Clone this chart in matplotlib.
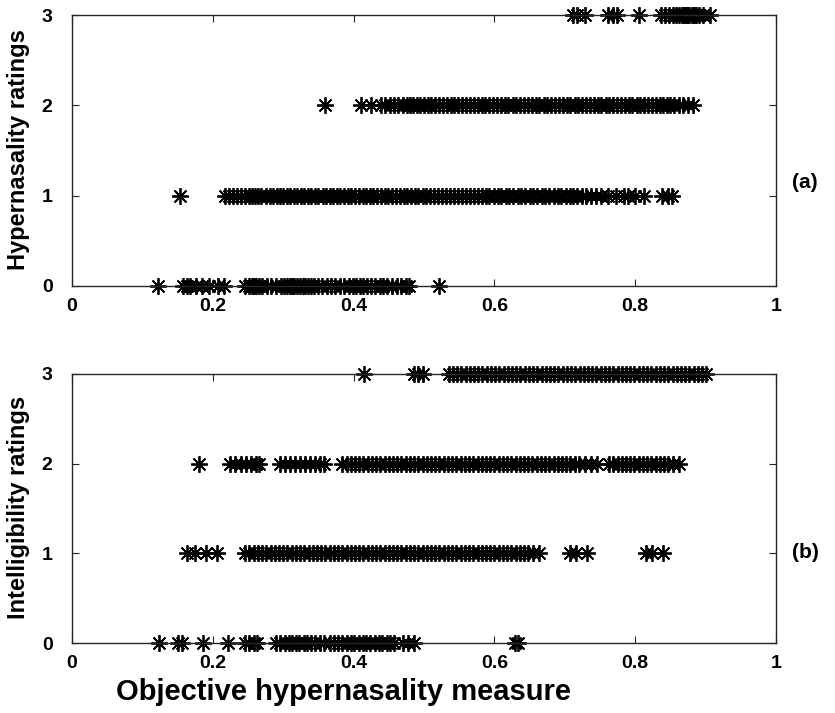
import numpy as np
import matplotlib
matplotlib.use("Agg")
import matplotlib.pyplot as plt

plt.rcParams['font.family'] = ['Liberation Sans', 'DejaVu Sans']
plt.rcParams['font.weight'] = 'bold'

# --- (a) hypernasality ratings vs objective measure ---
hyp_0 = [0.122, 0.158, 0.163, 0.168, 0.176, 0.184, 0.195, 0.207, 0.216,
         0.246, 0.251, 0.255, 0.259, 0.262, 0.266, 0.270, 0.277, 0.283, 0.290,
         0.297, 0.301, 0.305, 0.309, 0.312, 0.316, 0.320, 0.324, 0.328, 0.331,
         0.335, 0.339, 0.344, 0.349, 0.355, 0.362, 0.368, 0.374, 0.381, 0.387,
         0.393, 0.399, 0.404, 0.409, 0.414, 0.419, 0.425, 0.431, 0.437, 0.442,
         0.448, 0.455, 0.462, 0.468, 0.474, 0.478, 0.522]
hyp_1 = [0.153,
         0.217, 0.223, 0.229, 0.234, 0.240, 0.246, 0.251, 0.256, 0.260, 0.264,
         0.269, 0.275, 0.281, 0.286, 0.291, 0.296, 0.300, 0.305, 0.310, 0.315,
         0.320, 0.325, 0.330, 0.335, 0.340, 0.345, 0.350, 0.356, 0.361, 0.366,
         0.371, 0.376, 0.381, 0.386, 0.392, 0.397, 0.402, 0.408, 0.413, 0.418,
         0.423, 0.428, 0.433, 0.439, 0.444, 0.449, 0.455, 0.460, 0.466, 0.471,
         0.476, 0.482, 0.487, 0.492, 0.498, 0.503, 0.509, 0.514, 0.520, 0.526,
         0.531, 0.537, 0.542, 0.548, 0.554, 0.559, 0.565, 0.571, 0.576, 0.582,
         0.588, 0.593, 0.599, 0.605, 0.610, 0.616, 0.621, 0.627, 0.633, 0.638,
         0.644, 0.650, 0.655, 0.661, 0.667, 0.672, 0.678, 0.684, 0.690, 0.695,
         0.701, 0.707, 0.712, 0.718, 0.724, 0.730, 0.737,
         0.745, 0.752, 0.761, 0.773, 0.784, 0.790, 0.800, 0.812, 0.838, 0.847, 0.852]
hyp_2 = [0.359, 0.410, 0.425, 0.439, 0.445, 0.452, 0.458, 0.463, 0.470, 0.476, 0.480,
         0.485, 0.490, 0.495, 0.500, 0.505, 0.510, 0.516, 0.521, 0.527, 0.532,
         0.538, 0.543, 0.549, 0.554, 0.560, 0.565, 0.571, 0.576, 0.582, 0.587,
         0.593, 0.598, 0.604, 0.609, 0.615, 0.620, 0.626, 0.631, 0.637, 0.642,
         0.648, 0.653, 0.659, 0.664, 0.670, 0.675, 0.681, 0.686, 0.692, 0.697,
         0.703, 0.708, 0.714, 0.719, 0.725, 0.730, 0.736, 0.741, 0.747, 0.752,
         0.758, 0.763, 0.769, 0.774, 0.780, 0.785, 0.791, 0.796, 0.802, 0.807,
         0.813, 0.818, 0.824, 0.829, 0.835, 0.840, 0.845, 0.850, 0.855, 0.862,
         0.868, 0.875, 0.882]
hyp_3 = [0.712, 0.718, 0.728, 0.762, 0.768, 0.774, 0.806, 0.836, 0.842,
         0.848, 0.853, 0.858, 0.862, 0.866, 0.869, 0.872, 0.874, 0.877, 0.880,
         0.883, 0.887, 0.891, 0.897, 0.906]

# --- (b) intelligibility ratings vs objective measure ---
int_0 = [0.123, 0.151, 0.156, 0.186, 0.221, 0.246, 0.252, 0.258, 0.263,
         0.290, 0.296, 0.302, 0.308, 0.313, 0.318, 0.323, 0.329, 0.334, 0.339,
         0.345, 0.352, 0.358, 0.366, 0.372, 0.378, 0.384, 0.390, 0.396, 0.401,
         0.407, 0.413, 0.418, 0.424, 0.430, 0.436, 0.441, 0.447, 0.452, 0.458,
         0.470, 0.477, 0.486, 0.629, 0.633]
int_1 = [0.163, 0.175, 0.190, 0.206,
         0.246, 0.252, 0.258, 0.264, 0.270, 0.276, 0.282, 0.288, 0.294, 0.300,
         0.306, 0.312, 0.318, 0.324, 0.330, 0.336, 0.342, 0.348, 0.354, 0.360,
         0.366, 0.372, 0.378, 0.384, 0.390, 0.396, 0.402, 0.408, 0.414, 0.420,
         0.426, 0.432, 0.438, 0.444, 0.450, 0.456, 0.462, 0.468, 0.474, 0.480,
         0.486, 0.492, 0.498, 0.504, 0.510, 0.516, 0.522, 0.528, 0.534, 0.540,
         0.546, 0.552, 0.558, 0.564, 0.570, 0.576, 0.582, 0.588, 0.594, 0.600,
         0.606, 0.612, 0.618, 0.624, 0.630, 0.636, 0.642, 0.648, 0.655, 0.664,
         0.707, 0.716, 0.731, 0.815, 0.824, 0.839]
int_2 = [0.180, 0.224, 0.232, 0.240, 0.247, 0.254, 0.261, 0.266,
         0.296, 0.303, 0.310, 0.317, 0.324, 0.331, 0.338, 0.345, 0.352, 0.358,
         0.384, 0.390, 0.396, 0.402, 0.408, 0.414, 0.420, 0.426, 0.432, 0.438, 0.444,
         0.450, 0.456, 0.462, 0.468, 0.474, 0.480, 0.486, 0.492, 0.498, 0.504,
         0.510, 0.516, 0.522, 0.528, 0.534, 0.540, 0.546, 0.552, 0.558, 0.564,
         0.570, 0.576, 0.582, 0.588, 0.594, 0.600, 0.606, 0.612, 0.618, 0.624,
         0.630, 0.636, 0.642, 0.648, 0.654, 0.660, 0.666, 0.672, 0.678, 0.684,
         0.690, 0.696, 0.702, 0.708, 0.714, 0.720, 0.729, 0.737, 0.746,
         0.763, 0.769, 0.775, 0.781, 0.787, 0.793, 0.799, 0.805, 0.811, 0.817,
         0.823, 0.829, 0.835, 0.841, 0.847, 0.853, 0.862]
int_3 = [0.415, 0.486, 0.492, 0.499,
         0.535, 0.541, 0.547, 0.553, 0.559, 0.565, 0.571, 0.577, 0.583, 0.589,
         0.595, 0.601, 0.607, 0.613, 0.619, 0.625, 0.631, 0.637, 0.643, 0.649,
         0.655, 0.661, 0.667, 0.673, 0.679, 0.685, 0.691, 0.697, 0.703, 0.709,
         0.715, 0.721, 0.727, 0.733, 0.739, 0.745, 0.751, 0.757, 0.763, 0.769,
         0.775, 0.781, 0.787, 0.793, 0.799, 0.805, 0.811, 0.817, 0.823, 0.829,
         0.835, 0.841, 0.847, 0.853, 0.859, 0.865, 0.871, 0.877, 0.883, 0.889,
         0.895, 0.901]

x_ticks = [0, 0.2, 0.4, 0.6, 0.8, 1]
x_ticklabels = ['0', '0.2', '0.4', '0.6', '0.8', '1']
y_ticks = [0, 1, 2, 3]

W, H = 835, 713
fig = plt.figure(figsize=(W / 100, H / 100), dpi=100)

def px_axes(left, top, right, bottom):
    return fig.add_axes([left / W, 1 - bottom / H, (right - left) / W, (bottom - top) / H])

ax_a = px_axes(72, 15, 776, 286)
ax_b = px_axes(72, 374, 776, 643)

star = (8, 2, 0)

def draw_panel(ax, rows):
    for rating, xs in enumerate(rows):
        ax.plot(xs, np.full(len(xs), rating), linestyle='none', marker=star,
                markersize=12, markeredgewidth=1.3, color='black', clip_on=False)
    ax.set_xlim(0, 1)
    ax.set_ylim(0, 3)
    ax.set_xticks(x_ticks)
    ax.set_xticklabels(x_ticklabels)
    ax.set_yticks(y_ticks)
    ax.tick_params(direction='in', top=True, right=True, length=5, width=0.8,
                   labelsize=14, color='#262626')
    ax.tick_params(axis='x', pad=9)
    ax.tick_params(axis='y', pad=14)
    for s in ax.spines.values():
        s.set_color('#262626')
        s.set_linewidth(1.0)
    for lbl in ax.get_xticklabels() + ax.get_yticklabels():
        lbl.set_fontweight('bold')

draw_panel(ax_a, [hyp_0, hyp_1, hyp_2, hyp_3])
draw_panel(ax_b, [int_0, int_1, int_2, int_3])

fig.text(19 / W, 1 - 150 / H, 'Hypernasality ratings', fontsize=17, fontweight='bold',
         rotation=90, ha='center', va='center')
fig.text(19 / W, 1 - 507 / H, 'Intelligibility ratings', fontsize=17, fontweight='bold',
         rotation=90, ha='center', va='center')
fig.text(805 / W, 1 - 183 / H, '(a)', fontsize=15, fontweight='bold', ha='center', va='center')
fig.text(805 / W, 1 - 553 / H, '(b)', fontsize=15, fontweight='bold', ha='center', va='center')
fig.text(344 / W, 1 - 692 / H, 'Objective hypernasality measure', fontsize=21,
         fontweight='bold', ha='center', va='center')

fig.savefig('out.png', dpi=100)
